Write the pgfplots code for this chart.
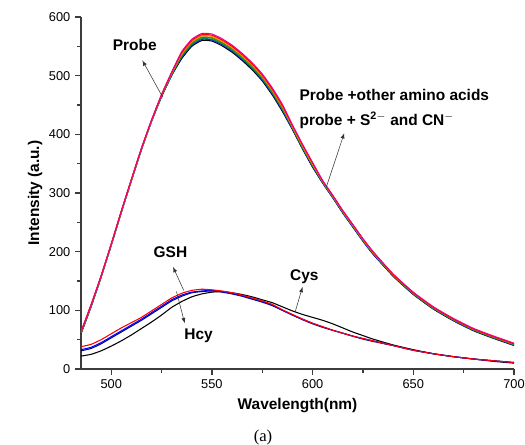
\documentclass[border=0pt]{standalone}
\usepackage{pgfplots}
\pgfplotsset{compat=1.18}
\usepackage{pgfplotstable}
\usepackage{fontspec}
\setmainfont{Liberation Sans}
\newfontfamily\seriffont{Liberation Serif}

% probe alone and probe + other analytes (8 traces)
\pgfplotstableread{
x   a   b   c   d   e   f   g   h
485 60  61  61  62  62  63  63  64
490 106 107 107 108 108 109 109 110
495 157 157 157 158 158 158 159 159
500 211 211 211 212 212 212 213 213
505 267 267 267 268 268 268 269 269
510 321 321 321 322 322 322 323 323
515 374 374 374 375 375 375 376 376
520 422 422 422 423 423 423 424 424
525 464 465 465 466 466 467 467 468
530 500 501 501 503 503 504 505 506
535 529 531 532 534 535 537 539 541
540 550 552 553 555 556 558 560 562
545 560 562 563 565 566 568 570 572
550 559 561 562 564 565 567 569 571
555 551 553 554 556 557 559 561 563
560 540 542 543 545 546 548 550 552
565 526 528 529 531 532 534 536 538
570 510 512 513 515 516 518 520 522
575 491 493 494 496 497 499 501 503
580 467 469 470 472 473 475 477 479
585 439 441 442 444 445 447 449 451
590 408 409 410 411 412 413 415 416
595 375 376 377 378 379 380 382 383
600 344 345 346 347 348 349 351 352
605 317 317 318 319 319 320 321 321
610 292 292 293 294 294 295 296 296
615 266 266 267 268 268 269 270 270
620 242 242 243 244 244 245 246 246
625 218 218 219 220 220 221 222 222
630 196 196 197 198 198 199 200 200
640 158 159 159 160 160 161 161 162
650 127 128 128 129 129 130 130 131
660 102 103 103 104 104 105 105 106
670 82  83  83  84  84  85  85  86
680 65  66  66  67  67  68  68  69
690 52  53  53  54  54  55  55  56
700 40  41  41  42  42  43  43  44
}\probe

% probe + GSH, Hcy, Cys
\pgfplotstableread{
x   red blue navy black
485 38  33  31  22
490 42  37  35  25
495 50  45  43  31
500 60  55  53  39
505 70  65  63  48
510 79  75  73  58
515 88  85  83  69
520 99  96  94  80
525 110 107 105 92
530 121 118 116 105
535 129 126 124 115
540 134 131 130 123
545 136 133 132 128
550 135 134 133 131
555 133 132 131 132
560 130 129 128 130
565 126 125 124 127
570 121 120 119 123
575 116 115 114 118
580 110 109 108 113
585 101 100 100 106
590 93  92  92  99
595 85  85  84  93
600 78  78  77  88
605 72  72  71  83
610 66  66  66  77
615 61  61  61  70
620 56  56  56  63
625 52  52  51  57
630 48  48  47  51
640 40  40  40  41
650 32  32  32  33
660 26  26  26  26
670 21  21  21  21
680 17  17  17  17
690 14  14  14  13
700 11  11  11  10
}\thiols

\definecolor{axgray}{RGB}{60,60,60}
\definecolor{teal2}{RGB}{0,128,128}
\definecolor{green2}{RGB}{0,150,0}
\definecolor{olive2}{RGB}{128,128,0}
\definecolor{orange2}{RGB}{255,140,0}
\definecolor{navy2}{RGB}{0,0,128}

\begin{document}
\begin{tikzpicture}
\path[use as bounding box] (-60.75pt,-56.25pt) rectangle (333pt,276.75pt);
\begin{axis}[
    at={(0,0)}, anchor=south west,
    scale only axis,
    width=324.75pt, height=264pt,
    xmin=485, xmax=700, ymin=0, ymax=600,
    axis lines*=left,
    axis line style={axgray, line width=1.3pt},
    tick style={axgray, line width=1pt},
    tick align=outside,
    major tick length=4.5pt,
    minor tick length=2.8pt,
    xtick={500,550,600,650,700},
    ytick={0,100,200,300,400,500,600},
    minor x tick num=1,
    minor y tick num=1,
    ticklabel style={font=\fontsize{9.6}{10}\selectfont},
    /pgf/number format/assume math mode=true,
    xlabel={\textbf{Wavelength(nm)}},
    ylabel={\textbf{Intensity (a.u.)}},
    label style={font=\fontsize{11.6}{13}\selectfont},
    xlabel style={yshift=0pt},
    ylabel style={yshift=-2pt},
    every axis plot/.append style={line width=0.8pt, smooth, tension=0.3},
    clip=true,
]
\addplot[black]   table[x=x, y=a] {\probe};
\addplot[blue]    table[x=x, y=b] {\probe};
\addplot[teal2]   table[x=x, y=c] {\probe};
\addplot[green2]  table[x=x, y=d] {\probe};
\addplot[olive2]  table[x=x, y=e] {\probe};
\addplot[orange2] table[x=x, y=f] {\probe};
\addplot[red]     table[x=x, y=g] {\probe};
\addplot[magenta] table[x=x, y=h] {\probe};

\addplot[black]   table[x=x, y=black] {\thiols};
\addplot[navy2]   table[x=x, y=navy]  {\thiols};
\addplot[blue]    table[x=x, y=blue]  {\thiols};
\addplot[red]     table[x=x, y=red]   {\thiols};

% annotations
\draw[-latex, black!80, line width=0.4pt] (axis cs:525.6,463) -- (axis cs:515.5,526);
\node[font=\fontsize{11.6}{13}\selectfont\bfseries] at (axis cs:511.7,552) {Probe};

\draw[-latex, black!80, line width=0.4pt] (axis cs:606.8,310) -- (axis cs:615.7,402);
\node[anchor=west, font=\fontsize{11.6}{13}\selectfont\bfseries, inner sep=0pt] at (axis cs:593.4,467) {Probe +other amino acids};
\node[anchor=west, font=\fontsize{11.6}{13}\selectfont\bfseries, inner sep=0pt] at (axis cs:593.4,424) {probe + S$^{\mathbf{2-}}$ and CN$^{\mathbf{-}}$};

\draw[-latex, black!80, line width=0.4pt] (axis cs:536,134) -- (axis cs:530.7,174);
\node[font=\fontsize{11.6}{13}\selectfont\bfseries] at (axis cs:529.4,199) {GSH};

\draw[-latex, black!80, line width=0.4pt] (axis cs:532.4,132) -- (axis cs:536.5,78);
\node[font=\fontsize{11.6}{13}\selectfont\bfseries] at (axis cs:543.4,56) {Hcy};

\draw[-latex, black!80, line width=0.4pt] (axis cs:591.4,98) -- (axis cs:595,140);
\node[font=\fontsize{11.6}{13}\selectfont\bfseries] at (axis cs:595.9,157) {Cys};
\end{axis}
\node[font=\seriffont\fontsize{12.5}{13}\selectfont] at (136.5pt,-51.5pt) {(a)};
\end{tikzpicture}
\end{document}
